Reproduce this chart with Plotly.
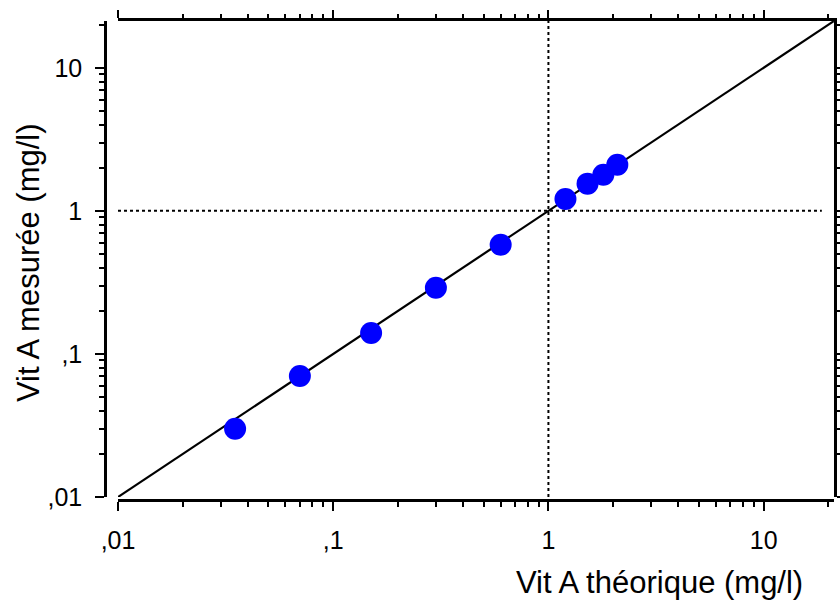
import plotly.graph_objects as go

# ---- data ----
vit_a_theorique = [0.035, 0.07, 0.15, 0.30, 0.60, 1.20, 1.52, 1.80, 2.09]
vit_a_mesuree = [0.030, 0.070, 0.14, 0.29, 0.58, 1.21, 1.55, 1.79, 2.10]
identity_x = [0.01, 21.2]
identity_y = [0.01, 21.2]
ref_value = 1
major_ticks = [0.01, 0.1, 1, 10]
major_labels = [",01", ",1", "1", "10"]
minor_ticks = [m * d for d in (0.01, 0.1, 1) for m in range(2, 10)] + [20]
axis_range = [-2, 1.327]

# ---- geometry (pixels) ----
W, H = 840, 602
plot_left, plot_right, plot_top, plot_bottom = 118, 834, 21, 497
yline_x, xline_y = 105, 500
ml, mr, mt, mb = 100, W - plot_right, plot_top, H - 505
reg_w = W - ml - mr
reg_h = H - mt - mb
xdom = [(plot_left - ml) / reg_w, 1]
ydom = [(H - mb - plot_bottom) / reg_h, 1]
ypos = (yline_x - ml) / reg_w
xpos = (H - mb - xline_y) / reg_h

FONT = "Liberation Sans, Arial, sans-serif"

fig = go.Figure()
fig.add_trace(go.Scatter(x=identity_x, y=identity_y, mode="lines",
                         line=dict(color="black", width=2.2), showlegend=False,
                         hoverinfo="skip"))
fig.add_trace(go.Scatter(x=vit_a_theorique, y=vit_a_mesuree, mode="markers",
                         marker=dict(color="#0000FF", size=22, line=dict(width=0)),
                         showlegend=False))
fig.add_trace(go.Scatter(x=[], y=[], xaxis="x2", yaxis="y2", showlegend=False,
                         hoverinfo="skip"))

# reference dotted lines
fig.add_shape(type="line", xref="x", yref="y domain", x0=ref_value, x1=ref_value,
              y0=0, y1=1, line=dict(color="black", width=2, dash="dot"))
fig.add_shape(type="line", xref="x domain", yref="y", x0=0, x1=0.983,
              y0=ref_value, y1=ref_value, line=dict(color="black", width=2, dash="dot"))

common = dict(type="log", range=axis_range, showgrid=False, zeroline=False,
              showline=True, linecolor="black", linewidth=2.5, automargin=False,
              ticks="outside", tickcolor="black", tickwidth=2,
              tickmode="array", tickvals=major_ticks, ticktext=major_labels,
              tickfont=dict(family=FONT, size=25, color="black"))
minor = dict(tickmode="array", tickvals=minor_ticks, ticks="outside",
             tickcolor="black", tickwidth=2, showgrid=False)

fig.update_layout(
    width=W, height=H,
    margin=dict(l=ml, r=mr, t=mt, b=mb, autoexpand=False),
    paper_bgcolor="white", plot_bgcolor="white",
    showlegend=False,
    xaxis=dict(**common, domain=xdom, anchor="free", position=xpos,
               ticklen=9, minor=dict(**minor, ticklen=5), ticklabelstandoff=8),
    yaxis=dict(**common, domain=ydom, anchor="free", position=ypos,
               ticklen=9, minor=dict(**minor, ticklen=5), ticklabelstandoff=8),
    xaxis2=dict(**common, overlaying="x", side="top", anchor="y2",
                showticklabels=False, ticklen=8, minor=dict(**minor, ticklen=4)),
    yaxis2=dict(**common, overlaying="y", side="right", anchor="x2",
                showticklabels=False, ticklen=7, minor=dict(**minor, ticklen=5)),
    annotations=[
        dict(text="Vit A théorique (mg/l)", xref="paper", yref="paper",
             x=(805 - ml) / reg_w, y=(H - mb - 582) / reg_h,
             xanchor="right", yanchor="middle", showarrow=False,
             font=dict(family=FONT, size=31, color="black")),
        dict(text="Vit A mesurée (mg/l)", xref="paper", yref="paper",
             x=(28 - ml) / reg_w, y=(H - mb - 263) / reg_h, textangle=-90,
             xanchor="center", yanchor="middle", showarrow=False,
             font=dict(family=FONT, size=31, color="black")),
    ],
)

fig.write_html("out.html")
